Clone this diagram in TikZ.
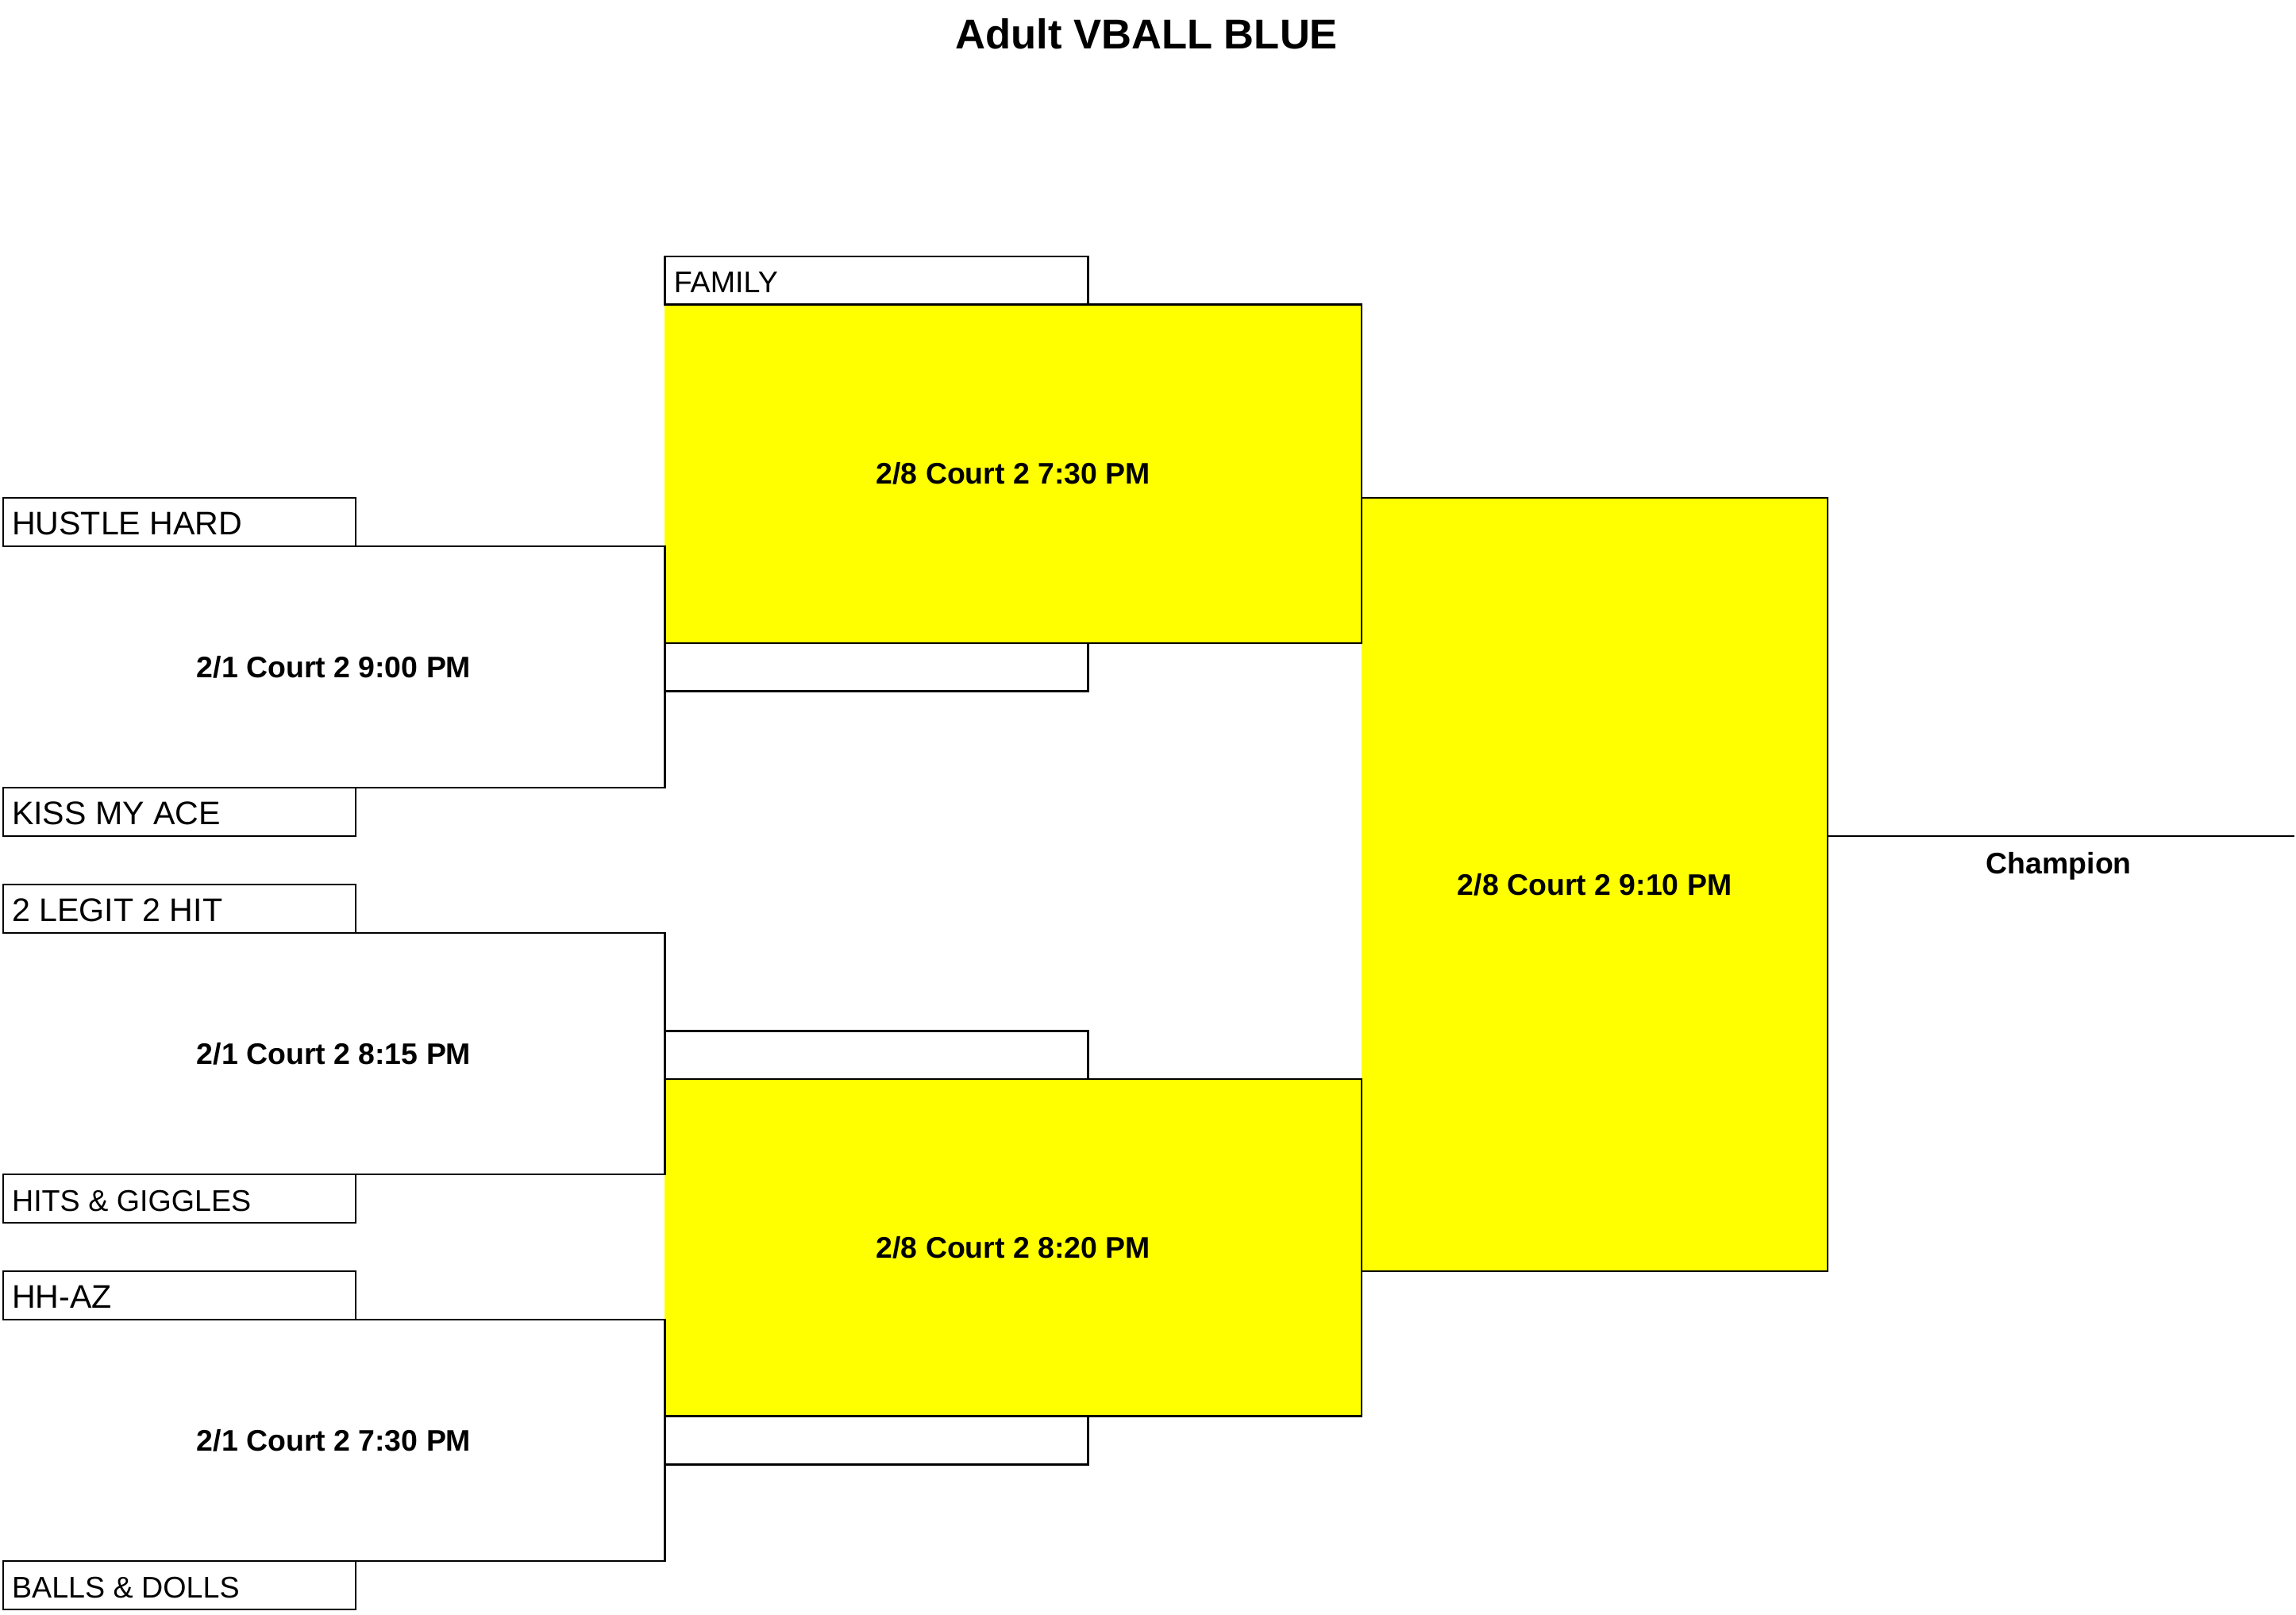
\documentclass[tikz,border=0pt]{standalone}
\usepackage{fontspec}
\setmainfont{Liberation Sans}
\definecolor{vyellow}{RGB}{255,255,0}
\tikzset{
  edge/.style={draw=black, line width=1.25pt, line cap=rect},
  teambox/.style={draw=black, line width=1.25pt, fill=white, anchor=north west, inner sep=0pt, outer sep=0pt, minimum width=241pt, minimum height=33pt},
  slotbox/.style={draw=black, line width=1.25pt, anchor=north west, inner sep=0pt, outer sep=0pt, minimum width=289pt, minimum height=33pt},
  matchzone/.style={anchor=north west, inner sep=0pt, outer sep=0pt, font=\fontsize{20.3}{24}\selectfont\bfseries},
  yellowbox/.style={fill=vyellow, anchor=north west, inner sep=0pt, outer sep=0pt, font=\fontsize{20.3}{24}\selectfont\bfseries},
  bigname/.style={anchor=base west, inner sep=0pt, font=\fontsize{22.3}{26}\selectfont},
  smallname/.style={anchor=base west, inner sep=0pt, font=\fontsize{20.4}{24}\selectfont},
}
\begin{document}
\begin{tikzpicture}[x=1pt,y=-1pt]
\useasboundingbox[fill=white] (0,0) rectangle (1568,1102.3);

% title
\node[anchor=base, inner sep=0pt, font=\fontsize{28.5}{32}\selectfont\bfseries] (title) at (783,33.5) {Adult VBALL BLUE};

% yellow regions (fill only)
\node[yellowbox, minimum width=476pt, minimum height=231pt] (y1) at (454,208) {2/8 Court 2 7:30 PM};
\node[yellowbox, minimum width=476pt, minimum height=230pt] (y2) at (454,737) {2/8 Court 2 8:20 PM};
\node[yellowbox, minimum width=318pt, minimum height=528pt] (fin) at (930,340) {2/8 Court 2 9:10 PM};

% first round team boxes
\node[teambox] (hh) at (2,340) {};
\node[teambox] (kma) at (2,538) {};
\node[teambox] (lgt) at (2,604) {};
\node[teambox] (hg) at (2,802) {};
\node[teambox] (haz) at (2,868) {};
\node[teambox] (bd) at (2,1066) {};
\node[bigname] at ([xshift=6pt,yshift=8pt]hh.south west) {HUSTLE HARD};
\node[bigname] at ([xshift=6pt,yshift=8pt]kma.south west) {KISS MY ACE};
\node[bigname] at ([xshift=6pt,yshift=8pt]lgt.south west) {2 LEGIT 2 HIT};
\node[smallname] at ([xshift=6pt,yshift=8pt]hg.south west) {HITS \& GIGGLES};
\node[bigname] at ([xshift=6pt,yshift=8pt]haz.south west) {HH-AZ};
\node[smallname] at ([xshift=6pt,yshift=8pt]bd.south west) {BALLS \& DOLLS};

% first round match zones
\node[matchzone, minimum width=452pt, minimum height=165pt] (m1) at (2,373) {2/1 Court 2 9:00 PM};
\node[matchzone, minimum width=452pt, minimum height=165pt] (m2) at (2,637) {2/1 Court 2 8:15 PM};
\node[matchzone, minimum width=452pt, minimum height=165pt] (m3) at (2,901) {2/1 Court 2 7:30 PM};

% brackets
\draw[edge] (hh.south east) -- (m1.north east) -- (m1.south east) -- (kma.north east);
\draw[edge] (lgt.south east) -- (m2.north east) -- (m2.south east) -- (hg.north east);
\draw[edge] (haz.south east) -- (m3.north east) -- (m3.south east) -- (bd.north east);

% second round slots
\node[slotbox, fill=white] (fam) at (454,175) {};
\node[smallname] at ([xshift=6pt,yshift=8pt]fam.south west) {FAMILY};
\node[slotbox] (s1) at (454,439) {};
\node[slotbox] (s2) at (454,704) {};
\node[slotbox] (s3) at (454,967) {};

% yellow borders
\draw[edge] (y1.north west) -- (y1.north east) -- (y1.south east) -- (y1.south west);
\draw[edge] (y2.north west) -- (y2.north east) -- (y2.south east) -- (y2.south west);
\draw[edge] (fin.north west) -- (fin.north east) -- (fin.south east) -- (fin.south west);

% champion
\coordinate (cr) at (1566,571);
\draw[edge] (fin.east |- cr) -- (cr);
\node[anchor=base, inner sep=0pt, font=\fontsize{20.3}{24}\selectfont\bfseries] (champ) at (1406,596.5) {Champion};
\end{tikzpicture}
\end{document}
